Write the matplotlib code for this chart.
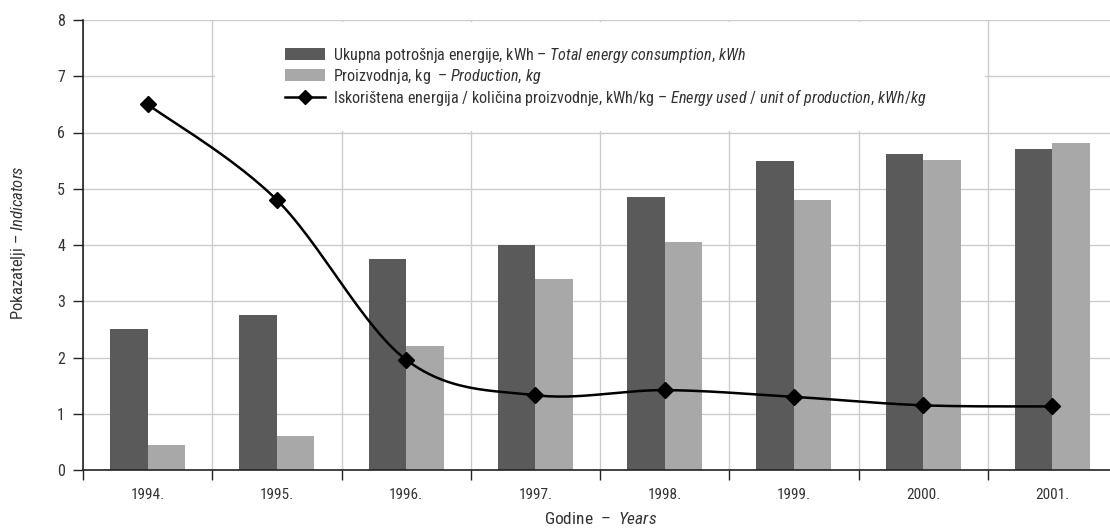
import matplotlib
matplotlib.use("Agg")
import matplotlib.pyplot as plt
import numpy as np
from matplotlib.lines import Line2D
from matplotlib.patches import Patch, Rectangle

years = ["1994.", "1995.", "1996.", "1997.", "1998.", "1999.", "2000.", "2001."]
energy_kwh = [2.5, 2.75, 3.75, 4.0, 4.85, 5.5, 5.62, 5.71]
production_kg = [0.45, 0.6, 2.2, 3.4, 4.05, 4.8, 5.51, 5.81]
energy_per_unit = [6.5, 4.8, 1.96, 1.33, 1.42, 1.3, 1.15, 1.13]

# mathtext already puts a small space after a comma, \, adds a bit more
label_energy = "Ukupna potrošnja energije, kWh – $\\it{Total\\ energy\\ consumption,\\,kWh}$"
label_prod = "Proizvodnja, kg  – $\\it{Production,\\,kg}$"
label_ratio = ("Iskorištena energija / količina proizvodnje, kWh/kg – "
               "$\\it{Energy\\ used\\ /\\ unit\\ of\\ production,\\,kWh/kg}$")

DARK = "#5a5a5a"
LIGHT = "#a8a8a8"
TEXT = "#333333"
GRID = "#cccccc"

FONT = "Roboto Condensed"
plt.rcParams["font.family"] = [FONT, "DejaVu Sans"]
plt.rcParams["mathtext.fontset"] = "custom"
plt.rcParams["mathtext.rm"] = FONT
plt.rcParams["mathtext.it"] = FONT + ":italic"


def smooth_curve(x, y, steps=30):
    # Catmull-Rom style bezier smoothing, like a spreadsheet "smoothed line"
    pts = np.column_stack([x, y]).astype(float)
    p = np.vstack([pts[0], pts, pts[-1]])
    out = []
    for i in range(1, len(p) - 2):
        p0, p1, p2, p3 = p[i - 1], p[i], p[i + 1], p[i + 2]
        c1 = p1 + (p2 - p0) / 6
        c2 = p2 - (p3 - p1) / 6
        t = np.linspace(0, 1, steps)[:, None]
        seg = ((1 - t) ** 3) * p1 + 3 * ((1 - t) ** 2) * t * c1 \
            + 3 * (1 - t) * t ** 2 * c2 + t ** 3 * p2
        out.append(seg if i == 1 else seg[1:])
    out = np.vstack(out)
    return out[:, 0], out[:, 1]


fig = plt.figure(figsize=(11.1, 5.29), dpi=100)
ax = fig.add_axes([83 / 1110, 1 - 470 / 529, 1034 / 1110, 450 / 529])

x = np.arange(len(years))
w = 0.29
ax.bar(x - w / 2, energy_kwh, w, color=DARK, zorder=2)
ax.bar(x + w / 2, production_kg, w, color=LIGHT, zorder=2)

sx, sy = smooth_curve(x, energy_per_unit)
ax.plot(sx, sy, color="black", lw=1.8, zorder=3)
ax.plot(x, energy_per_unit, ls="none", marker="D", ms=8, color="black", zorder=4)

ax.set_xlim(-0.5, len(years) - 0.5)
ax.set_ylim(0, 8)
ax.set_yticks(range(9))
ax.set_xticks(np.arange(-0.5, len(years), 1.0))
ax.set_xticklabels([])
ax.set_xticks(x, minor=True)
ax.set_xticklabels(years, minor=True)
ax.tick_params(axis="x", which="minor", length=0, pad=13, labelsize=11, colors=TEXT)
ax.tick_params(axis="x", which="major", length=7, width=1, direction="out", color="#222222")
ax.tick_params(axis="y", length=7, width=1, direction="out", color="#222222",
               labelsize=11.5, labelcolor=TEXT, pad=6)
ax.grid(True, which="major", color=GRID, lw=1)
ax.set_axisbelow(True)
for s in ["top", "right"]:
    ax.spines[s].set_visible(False)
for s in ["left", "bottom"]:
    ax.spines[s].set_color("#222222")
    ax.spines[s].set_linewidth(1.2)

# white block behind the legend hides the grid there
ax.add_patch(Rectangle((0.52, 6.03), 5.96, 1.94, facecolor="white",
                       edgecolor="none", zorder=1))

handles = [
    Patch(facecolor=DARK, label=label_energy),
    Patch(facecolor=LIGHT, label=label_prod),
    Line2D([], [], color="black", lw=1.8, marker="D", ms=7, label=label_ratio),
]
ax.legend(handles=handles, loc="upper left", frameon=False,
          bbox_to_anchor=(285 / 1110, 1 - 46 / 529), bbox_transform=fig.transFigure,
          borderpad=0, borderaxespad=0, fontsize=11.6, handlelength=2.5,
          handleheight=0.75, handletextpad=0.5, labelspacing=0.1, labelcolor=TEXT)

fig.text(19 / 1110, 1 - 243 / 529, "Pokazatelji – $\\it{Indicators}$", rotation=90,
         ha="center", va="center", fontsize=12, color=TEXT)
fig.text(601 / 1110, 1 - 519 / 529, "Godine  –  $\\it{Years}$", ha="center",
         va="center", fontsize=12.5, color=TEXT)

fig.savefig("out.png", dpi=100, facecolor="white")
